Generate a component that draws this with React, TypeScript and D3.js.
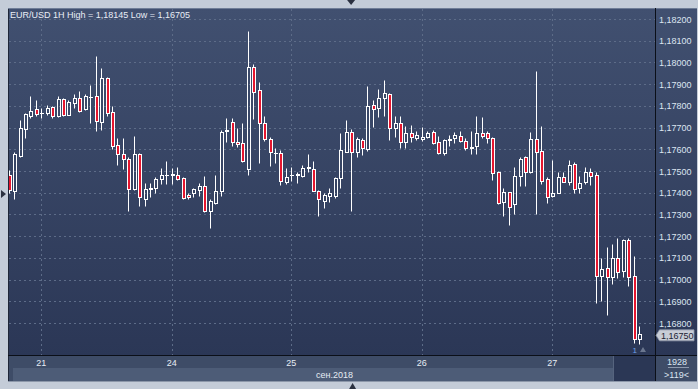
import React from 'react';
import * as d3 from 'd3';

const W = 698;
const H = 389;

const title = 'EUR/USD 1H High = 1,18145 Low = 1,16705';
const monthLabel = 'сен.2018';
const dayLabels = ['21', '24', '25', '26', '27'];
const dayStarts = [6, 30, 52, 76, 100];
const priceTicks = [1.182, 1.181, 1.18, 1.179, 1.178, 1.177, 1.176, 1.175, 1.174, 1.173, 1.172, 1.171, 1.17, 1.169, 1.168];
const lastPrice = 1.1675;
const barsCount = '1928';
const visibleLabel = '>119<';

const opens = [
  1.17482, 1.17409, 1.1757, 1.17692, 1.17753, 1.17784, 1.17765, 1.17768, 1.17793, 1.17752,
  1.1783, 1.17759, 1.17815, 1.17835, 1.17784, 1.17841, 1.17845, 1.17727, 1.17927, 1.1777,
  1.17618, 1.17577, 1.17555, 1.17416, 1.17577, 1.17372, 1.17416, 1.1742, 1.17462, 1.1748,
  1.1748, 1.17482, 1.17466, 1.17389, 1.17397, 1.17413, 1.17432, 1.17317, 1.17354, 1.17409,
  1.17684, 1.17727, 1.17635, 1.17628, 1.17508, 1.17978, 1.17873, 1.1772, 1.17647, 1.17584,
  1.17582, 1.17451, 1.1748, 1.17483, 1.17478, 1.17514, 1.17508, 1.17407, 1.17363, 1.17385,
  1.17386, 1.17466, 1.17589, 1.17678, 1.17589, 1.17643, 1.176, 1.17803, 1.17788, 1.17835,
  1.17855, 1.17697, 1.1772, 1.17632, 1.17674, 1.17653, 1.17647, 1.17658, 1.17681, 1.17632,
  1.17584, 1.17644, 1.17651, 1.17663, 1.17637, 1.17611, 1.17617, 1.17674, 1.17674, 1.17651,
  1.17494, 1.17359, 1.17402, 1.17347, 1.17478, 1.17563, 1.17497, 1.17649, 1.17592, 1.17463,
  1.17386, 1.174, 1.17471, 1.17451, 1.17531, 1.1742, 1.17451, 1.17494, 1.17482, 1.17017,
  1.17052, 1.17011, 1.17098, 1.1704, 1.17182, 1.17017, 1.16726,
];
const highs = [
  1.17505, 1.17588, 1.17735, 1.17767, 1.17845, 1.17827, 1.17792, 1.17804, 1.17799, 1.17845,
  1.17835, 1.17827, 1.17855, 1.17868, 1.17855, 1.17896, 1.1803, 1.17973, 1.17934, 1.17799,
  1.17651, 1.17651, 1.17565, 1.1766, 1.17583, 1.17443, 1.17443, 1.17474, 1.17512, 1.17546,
  1.17514, 1.1752, 1.17472, 1.174, 1.17423, 1.17443, 1.17477, 1.1737, 1.17482, 1.17689,
  1.17744, 1.17743, 1.17697, 1.17721, 1.18145, 1.17993, 1.1791, 1.17753, 1.17655, 1.17606,
  1.17597, 1.17515, 1.1752, 1.17497, 1.17528, 1.17578, 1.17547, 1.17413, 1.174, 1.1742,
  1.17471, 1.17676, 1.17735, 1.17693, 1.17655, 1.17651, 1.17891, 1.17827, 1.17878, 1.17919,
  1.17861, 1.17753, 1.17753, 1.17707, 1.17712, 1.17684, 1.17701, 1.17684, 1.17689, 1.17661,
  1.17646, 1.17666, 1.17678, 1.17684, 1.17651, 1.17684, 1.17753, 1.17747, 1.17686, 1.17657,
  1.175, 1.17423, 1.17405, 1.17517, 1.17566, 1.17569, 1.17681, 1.17961, 1.17707, 1.17474,
  1.17551, 1.17497, 1.17494, 1.17551, 1.17541, 1.17477, 1.17517, 1.17515, 1.17497, 1.17098,
  1.17149, 1.17162, 1.1719, 1.17187, 1.17191, 1.17109, 1.16786,
];
const lows = [
  1.17399, 1.17371, 1.17565, 1.17651, 1.17743, 1.17753, 1.17745, 1.17758, 1.17743, 1.17749,
  1.17753, 1.17758, 1.17792, 1.17772, 1.17781, 1.17721, 1.17686, 1.17689, 1.17753, 1.17601,
  1.17528, 1.17509, 1.17317, 1.17413, 1.1734, 1.1734, 1.17379, 1.174, 1.1744, 1.1744,
  1.1744, 1.17459, 1.1737, 1.1737, 1.17379, 1.17385, 1.17311, 1.17236, 1.17348, 1.17385,
  1.17635, 1.17615, 1.17611, 1.17541, 1.17482, 1.1774, 1.17538, 1.17638, 1.17524, 1.17538,
  1.17436, 1.1744, 1.17454, 1.17443, 1.17474, 1.17497, 1.17406, 1.17294, 1.17328, 1.17359,
  1.17374, 1.1742, 1.17586, 1.17317, 1.17566, 1.17574, 1.17593, 1.17704, 1.1775, 1.17755,
  1.17643, 1.17658, 1.17607, 1.17607, 1.17635, 1.17643, 1.17638, 1.17651, 1.17624, 1.17578,
  1.17574, 1.17615, 1.17628, 1.17632, 1.17597, 1.17578, 1.17578, 1.17651, 1.1763, 1.17459,
  1.17348, 1.17293, 1.17251, 1.17302, 1.17431, 1.17431, 1.17493, 1.17302, 1.1744, 1.17354,
  1.17382, 1.17397, 1.17449, 1.17436, 1.174, 1.174, 1.1744, 1.17436, 1.16894, 1.16903,
  1.16837, 1.1698, 1.17006, 1.17013, 1.16971, 1.16709, 1.16705,
];
const closes = [
  1.17412, 1.17578, 1.17697, 1.17763, 1.17776, 1.17763, 1.17769, 1.17788, 1.17753, 1.1783,
  1.17759, 1.17818, 1.17835, 1.17776, 1.17845, 1.17843, 1.17732, 1.17927, 1.17766, 1.17617,
  1.17577, 1.17554, 1.17416, 1.17577, 1.17379, 1.17416, 1.1742, 1.17462, 1.17482, 1.17483,
  1.17485, 1.17462, 1.17374, 1.17379, 1.17416, 1.17431, 1.17314, 1.1736, 1.17409, 1.17678,
  1.17689, 1.17635, 1.17623, 1.17547, 1.17978, 1.17865, 1.1772, 1.17649, 1.17586, 1.17582,
  1.17455, 1.17472, 1.17483, 1.17486, 1.17512, 1.17517, 1.17409, 1.1737, 1.17389, 1.174,
  1.17466, 1.17597, 1.17678, 1.17589, 1.17646, 1.17605, 1.17801, 1.17784, 1.17835, 1.17858,
  1.17697, 1.1772, 1.17635, 1.17674, 1.17658, 1.17664, 1.17658, 1.17676, 1.1763, 1.17582,
  1.17643, 1.17648, 1.17664, 1.17638, 1.17605, 1.17608, 1.17674, 1.17663, 1.17651, 1.17489,
  1.17354, 1.17402, 1.17333, 1.17478, 1.17554, 1.17497, 1.17646, 1.17589, 1.17455, 1.17382,
  1.17397, 1.17471, 1.17451, 1.17526, 1.17416, 1.17443, 1.17494, 1.17476, 1.17018, 1.17047,
  1.17011, 1.17098, 1.17036, 1.17182, 1.17011, 1.16726, 1.1675,
];

const PLOT = { left: 9, top: 9, right: 655, bottom: 355 };

export default function App() {
  const n = opens.length;
  const x = d3.scaleLinear().domain([0, n - 1]).range([8.66, 639.2]);
  const y = d3.scaleLinear().domain([1.168, 1.182]).range([323, 19]);
  const fmt = (v: number) => v.toFixed(5).replace('.', ',');
  const font = '"Liberation Sans", Arial, sans-serif';
  const red = '#e5162f';

  const candles = d3.range(n).map((k) => {
    const o = opens[k], c = closes[k], h = highs[k], l = lows[k];
    const px = Math.round(x(k));
    const cx = px + 0.5;
    const yTop = Math.round(y(Math.max(o, c))) + 0.5;
    const yBot = Math.round(y(Math.min(o, c))) + 0.5;
    const yH = Math.round(y(h)) + 0.5;
    const yL = Math.round(y(l)) + 0.5;
    const bear = c < o;
    const flat = yBot - yTop < 1;
    return (
      <g key={k}>
        {yH < yTop && <line x1={cx} x2={cx} y1={yH} y2={yTop} stroke="#ffffff" strokeWidth={1} />}
        {yL > yBot && <line x1={cx} x2={cx} y1={yBot} y2={yL} stroke="#ffffff" strokeWidth={1} />}
        {flat ? (
          <line x1={px - 1} x2={px + 3} y1={yTop} y2={yTop} stroke="#ffffff" strokeWidth={1} />
        ) : (
          <rect x={px - 0.5} y={yTop} width={3} height={yBot - yTop} fill={bear ? red : 'none'} stroke="#ffffff" strokeWidth={1} />
        )}
      </g>
    );
  });

  const lastY = y(lastPrice);
  const topMarkX = x(63);

  return (
    <svg width={W} height={H} viewBox={`0 0 ${W} ${H}`} style={{ position: 'absolute', left: 0, top: 0, display: 'block' }}>
      <defs>
        <linearGradient id="bgGrad" x1="0" y1="0" x2="0" y2="1">
          <stop offset="0" stopColor="#415070" />
          <stop offset="1" stopColor="#2b3756" />
        </linearGradient>
        <clipPath id="plotClip">
          <rect x={PLOT.left} y={PLOT.top} width={PLOT.right - PLOT.left} height={PLOT.bottom - PLOT.top} />
        </clipPath>
      </defs>
      <rect x={0} y={0} width={W} height={H} fill="#c4ccd8" />
      {/* main frame */}
      <rect x={8} y={8} width={689} height={347} fill="url(#bgGrad)" />
      {/* bottom axis rows */}
      <rect x={8} y={355} width={689} height={26} fill="#3e4c67" />
      <rect x={13} y={368} width={600} height={13} fill="#4d5c77" />
      <rect x={613} y={356} width={42} height={25} fill="#2b3755" />
      <line x1={613.5} x2={613.5} y1={356} y2={381} stroke="#56647e" />
      <line x1={8} x2={697} y1={381.5} y2={381.5} stroke="#8d98aa" />

      {/* grid */}
      <g clipPath="url(#plotClip)">
        {priceTicks.map((v) => (
          <line key={v} x1={PLOT.left} x2={PLOT.right} y1={Math.round(y(v)) + 0.5} y2={Math.round(y(v)) + 0.5} stroke="#5d6c88" strokeDasharray="2,3" />
        ))}
        {dayStarts.map((k) => (
          <line key={k} x1={Math.round(x(k)) + 0.5} x2={Math.round(x(k)) + 0.5} y1={PLOT.top} y2={PLOT.bottom} stroke="#5d6c88" strokeDasharray="2,3" />
        ))}
        {candles}
      </g>

      {/* frame lines */}
      <line x1={8.5} x2={8.5} y1={8} y2={381} stroke="#1e2638" />
      <line x1={8} x2={697} y1={8.5} y2={8.5} stroke="#6f7d96" />
      <line x1={8} x2={697} y1={355.5} y2={355.5} stroke="#0b0f18" />
      <line x1={655.5} x2={655.5} y1={8} y2={381} stroke="#0b0f18" />

      {/* title */}
      <text x={10} y={18} fontFamily={font} fontSize={9} fill="#e9eef6">{title}</text>

      {/* price axis */}
      {priceTicks.map((v) => (
        <text key={v} x={659} y={y(v) + 3.5} fontFamily={font} fontSize={9} fill="#dce5f1">{fmt(v)}</text>
      ))}
      <path d={`M656,${lastY + 1.5} L659.5,${lastY - 4} L694,${lastY - 4} L694,${lastY + 7} L659.5,${lastY + 7} Z`} fill="#c8cdd6" stroke="#8e97a8" strokeWidth={0.8} />
      <text x={661} y={lastY + 5} fontFamily={font} fontSize={9} fill="#1c2333">{fmt(lastPrice)}</text>

      {/* time axis */}
      {dayStarts.map((k, i) => (
        <text key={k} x={x(k)} y={366} textAnchor="middle" fontFamily={font} fontSize={9} fill="#e6ecf4">{dayLabels[i]}</text>
      ))}
      <text x={334.5} y={377.5} textAnchor="middle" fontFamily={font} fontSize={9} fill="#e6ecf4">{monthLabel}</text>
      <text x={677} y={364.5} textAnchor="middle" fontFamily={font} fontSize={9} fill="#dce5f1">{barsCount}</text>
      <line x1={668} x2={689} y1={367.5} y2={367.5} stroke="#8d99ad" />
      <text x={676.5} y={378} textAnchor="middle" fontFamily={font} fontSize={9} fill="#dce5f1">{visibleLabel}</text>

      {/* markers */}
      <text x={x(n - 2) + 1} y={353} textAnchor="middle" fontFamily={font} fontSize={8} fill="#6fa3ea">1</text>
      <path d="M640,352 L643,347 L646,352 Z" fill="#6b778f" />
      <path d={`M${topMarkX - 4},0 L${topMarkX + 4},0 L${topMarkX},5 Z`} fill="#2b3140" />
      <path d={`M${topMarkX - 2},389 L${topMarkX + 5},389 L${topMarkX + 1.5},383 Z`} fill="#2b3140" />
      <path d="M1,190 L6,194 L1,198 Z" fill="#2b3140" />
    </svg>
  );
}
